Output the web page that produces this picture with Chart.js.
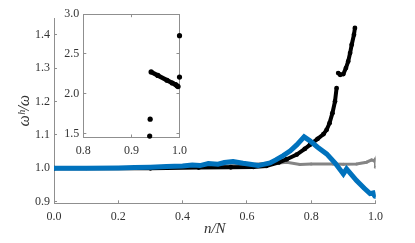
<!DOCTYPE html>
<html lang="en">

<head>
    <meta charset="UTF-8">
    <title>omega h / omega</title>
    <script src="https://cdn.jsdelivr.net/npm/chart.js"></script>
    <style>
        body {
            margin: 0;
            background: white;
        }

        #wrap {
            position: relative;
            width: 415px;
            height: 243px;
        }

        #main {
            position: absolute;
            left: 0;
            top: 0;
        }

        #inset {
            position: absolute;
            left: 56px;
            top: 0;
        }
    </style>
</head>

<body>
    <div id="wrap">
        <canvas id="main" width="415" height="243"></canvas>
        <canvas id="inset" width="140" height="160"></canvas>
    </div>

    <script>
        // main panel
        const blueX = [0.00, 0.10, 0.20, 0.25, 0.30, 0.35, 0.40, 0.43, 0.454, 0.48, 0.51, 0.53, 0.557, 0.588, 0.61, 0.635, 0.672, 0.69, 0.713, 0.735, 0.755, 0.778, 0.796, 0.82, 0.848, 0.875, 0.90, 0.91, 0.941, 0.965, 0.983, 0.993, 0.997, 1.00];
        const blueY = [1.000, 1.000, 1.001, 1.002, 1.003, 1.005, 1.007, 1.010, 1.008, 1.014, 1.012, 1.017, 1.020, 1.015, 1.012, 1.008, 1.016, 1.025, 1.038, 1.052, 1.070, 1.094, 1.082, 1.063, 1.043, 1.015, 0.983, 0.998, 0.963, 0.940, 0.924, 0.926, 0.918, 0.914];

        const blackX = [0.00, 0.30, 0.45, 0.55, 0.62, 0.66, 0.70, 0.724, 0.755, 0.78, 0.796, 0.82, 0.838, 0.848, 0.857, 0.866, 0.874, 0.879, null, 0.884, 0.890, 0.900, 0.908, 0.915, 0.921, 0.926, 0.933, 0.936];
        const blackY = [1.000, 1.000, 1.002, 1.003, 1.004, 1.007, 1.018, 1.027, 1.041, 1.058, 1.070, 1.088, 1.102, 1.115, 1.135, 1.165, 1.200, 1.240, null, 1.285, 1.280, 1.282, 1.300, 1.320, 1.345, 1.370, 1.400, 1.420];

        const greyX = [0.00, 0.30, 0.50, 0.60, 0.65, 0.70, 0.724, 0.765, 0.80, 0.868, 0.90, 0.941, 0.972, 0.988, 0.996, 1.00, 1.00];
        const greyY = [1.000, 1.001, 1.005, 1.010, 1.014, 1.016, 1.018, 1.011, 1.013, 1.013, 1.012, 1.013, 1.018, 1.025, 1.022, 1.028, 1.003];

        const mainXTicks = [0, 0.2, 0.4, 0.6, 0.8, 1.0];
        const mainYTicks = [0.9, 1.0, 1.1, 1.2, 1.3, 1.4];

        // inset, tail of the black series: loose dots and the falling run
        const insetDotX = [0.938, 0.939, 1.0, 1.0];
        const insetDotY = [1.468, 1.680, 2.210, 2.730];
        const insetRunX = [0.941, 0.955, 0.974, 0.985, 0.992, 0.995, 0.997];
        const insetRunY = [2.274, 2.230, 2.170, 2.135, 2.115, 2.100, 2.090];

        const insetXTicks = [0.8, 0.9, 1.0];
        const insetYTicks = [1.5, 2.0, 2.5, 3.0];

        const blue = '#0072BD';
        const axisGrey = '#8f8f8f';
        const textCol = '#333';
        const serif = '"Liberation Serif", "DejaVu Serif", serif';

        function pts(xs, ys) {
            return xs.map(function (x, i) {
                return x === null ? { x: null, y: null } : { x: x, y: ys[i] };
            });
        }

        function setTicks(values) {
            return function (scale) {
                scale.ticks = values.map(function (v) { return { value: v }; });
            };
        }

        function fixW(w) {
            return function (scale) { scale.width = w; };
        }

        function fixH(h) {
            return function (scale) { scale.height = h; };
        }

        const tickGrid = {
            drawOnChartArea: false,
            drawTicks: true,
            tickLength: -3,
            color: axisGrey,
            lineWidth: 1
        };

        new Chart(document.getElementById('main'), {
            type: 'scatter',
            data: {
                datasets: [{
                    data: pts(blueX, blueY),
                    showLine: true,
                    borderColor: blue,
                    backgroundColor: blue,
                    borderWidth: 5,
                    pointRadius: 2,
                    pointBorderWidth: 0,
                    spanGaps: false
                }, {
                    data: pts(blackX, blackY),
                    showLine: true,
                    borderColor: 'black',
                    backgroundColor: 'black',
                    borderWidth: 4,
                    pointRadius: 2.4,
                    pointBorderWidth: 0,
                    spanGaps: false
                }, {
                    data: pts(greyX, greyY),
                    showLine: true,
                    borderColor: '#858585',
                    backgroundColor: '#858585',
                    borderWidth: 3,
                    pointRadius: 1.5,
                    pointBorderWidth: 0,
                    spanGaps: false
                }]
            },
            options: {
                responsive: false,
                animation: false,
                events: [],
                layout: {
                    padding: { left: 0, top: 18, right: 39.5, bottom: 0 }
                },
                plugins: {
                    legend: { display: false },
                    tooltip: { enabled: false }
                },
                scales: {
                    x: {
                        type: 'linear',
                        min: 0,
                        max: 1,
                        afterBuildTicks: setTicks(mainXTicks),
                        afterFit: fixH(39.7),
                        grid: tickGrid,
                        border: { color: axisGrey, width: 1 },
                        ticks: {
                            padding: 9,
                            color: textCol,
                            font: { family: serif, size: 12 },
                            callback: function (v) { return v.toFixed(1); }
                        },
                        title: {
                            display: true,
                            text: 'n/N',
                            color: textCol,
                            padding: { top: 0, bottom: 5 },
                            font: { family: serif, size: 15, style: 'italic' }
                        }
                    },
                    y: {
                        type: 'linear',
                        min: 0.895,
                        max: 1.45,
                        afterBuildTicks: setTicks(mainYTicks),
                        afterFit: fixW(54),
                        grid: tickGrid,
                        border: { color: axisGrey, width: 1 },
                        ticks: {
                            padding: 7,
                            color: textCol,
                            font: { family: serif, size: 12 },
                            callback: function (v) { return v.toFixed(1); }
                        },
                        title: {
                            display: true,
                            text: 'ωʰ/ω',
                            color: textCol,
                            padding: { top: 15, bottom: 0 },
                            font: { family: serif, size: 16, style: 'italic' }
                        }
                    }
                }
            }
        });

        const hidden = {
            display: false
        };

        new Chart(document.getElementById('inset'), {
            type: 'scatter',
            data: {
                datasets: [{
                    data: pts(insetDotX, insetDotY),
                    showLine: false,
                    backgroundColor: 'black',
                    pointRadius: 2.6,
                    pointBorderWidth: 0,
                    clip: false
                }, {
                    data: pts(insetRunX, insetRunY),
                    showLine: true,
                    borderColor: 'black',
                    backgroundColor: 'black',
                    borderWidth: 4.5,
                    pointRadius: 2.6,
                    pointBorderWidth: 0,
                    clip: false
                }]
            },
            plugins: [{
                id: 'whiteBox',
                beforeDraw: function (chart) {
                    const a = chart.chartArea;
                    chart.ctx.save();
                    chart.ctx.fillStyle = 'white';
                    chart.ctx.fillRect(a.left, a.top, a.right - a.left, a.bottom - a.top);
                    chart.ctx.restore();
                }
            }],
            options: {
                responsive: false,
                animation: false,
                events: [],
                layout: {
                    padding: { left: 0, top: 7, right: 9.3, bottom: 0 }
                },
                plugins: {
                    legend: { display: false },
                    tooltip: { enabled: false }
                },
                scales: {
                    x: {
                        type: 'linear',
                        position: 'bottom',
                        min: 0.8,
                        max: 1.0,
                        afterBuildTicks: setTicks(insetXTicks),
                        afterFit: fixH(22.5),
                        grid: tickGrid,
                        border: { color: axisGrey, width: 1 },
                        ticks: {
                            padding: 9,
                            color: textCol,
                            font: { family: serif, size: 12 },
                            callback: function (v) { return v.toFixed(1); }
                        }
                    },
                    x2: {
                        type: 'linear',
                        position: 'top',
                        min: 0.8,
                        max: 1.0,
                        afterBuildTicks: setTicks(insetXTicks),
                        afterFit: fixH(0),
                        grid: tickGrid,
                        border: { color: axisGrey, width: 1 },
                        ticks: hidden
                    },
                    y: {
                        type: 'linear',
                        position: 'left',
                        min: 1.45,
                        max: 3.0,
                        afterBuildTicks: setTicks(insetYTicks),
                        afterFit: fixW(27.3),
                        grid: tickGrid,
                        border: { color: axisGrey, width: 1 },
                        ticks: {
                            padding: 7,
                            color: textCol,
                            font: { family: serif, size: 12 },
                            callback: function (v) { return v.toFixed(1); }
                        }
                    },
                    y2: {
                        type: 'linear',
                        position: 'right',
                        min: 1.45,
                        max: 3.0,
                        afterBuildTicks: setTicks(insetYTicks),
                        afterFit: fixW(0),
                        grid: tickGrid,
                        border: { color: axisGrey, width: 1 },
                        ticks: hidden
                    }
                }
            }
        });
    </script>
</body>

</html>
